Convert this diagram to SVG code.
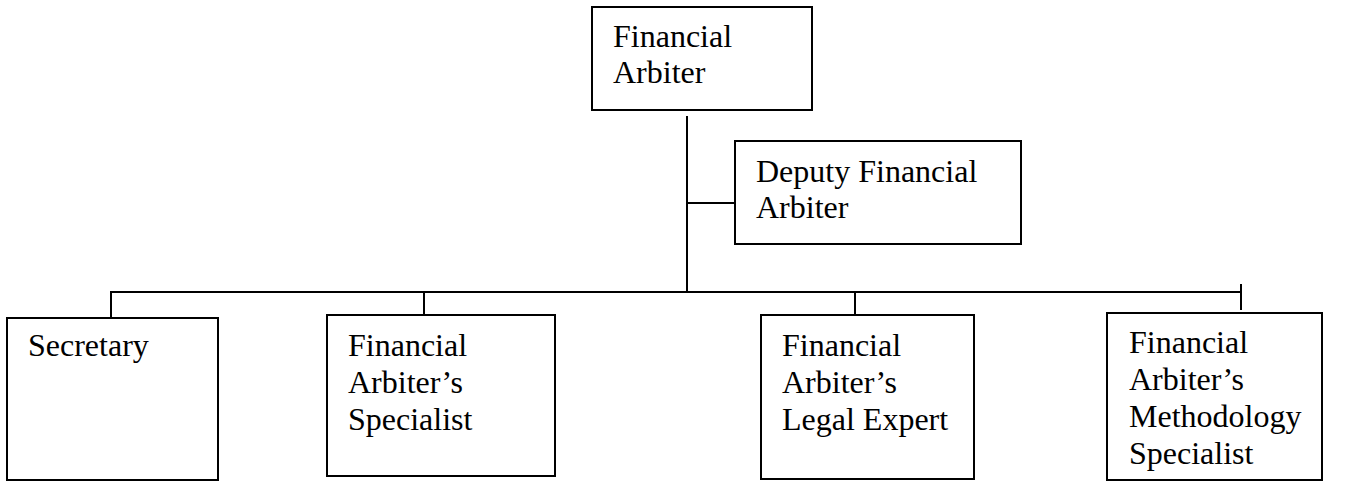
<svg xmlns="http://www.w3.org/2000/svg" width="1366" height="482" viewBox="0 0 1366 482">
<style>
.box{fill:#fff;stroke:#000;stroke-width:2}
.t{font-family:"Liberation Serif","Times New Roman",serif;font-size:32px;fill:#000}
.c{stroke:#000;stroke-width:2;fill:none}
</style>
<rect width="1366" height="482" fill="#fff"/>
<g id="connectors">
<line class="c" x1="687" y1="116" x2="687" y2="292"/>
<line class="c" x1="687" y1="203" x2="735" y2="203"/>
<line class="c" x1="110" y1="292" x2="1241" y2="292"/>
<line class="c" x1="111" y1="291" x2="111" y2="318"/>
<line class="c" x1="424" y1="291" x2="424" y2="315"/>
<line class="c" x1="855" y1="291" x2="855" y2="315"/>
<line class="c" x1="1241" y1="284" x2="1241" y2="310"/>
</g>
<g id="financial-arbiter">
<rect class="box" x="592" y="7" width="220" height="103"/>
<text class="t" x="613" y="47">Financial</text>
<text class="t" x="613" y="83">Arbiter</text>
</g>
<g id="deputy">
<rect class="box" x="735" y="141" width="286" height="103"/>
<text class="t" x="756" y="182">Deputy Financial</text>
<text class="t" x="756" y="218">Arbiter</text>
</g>
<g id="secretary">
<rect class="box" x="7" y="318" width="211" height="162"/>
<text class="t" x="28" y="356">Secretary</text>
</g>
<g id="specialist">
<rect class="box" x="327" y="315" width="228" height="161"/>
<text class="t" x="348" y="356">Financial</text>
<text class="t" x="348" y="393">Arbiter’s</text>
<text class="t" x="348" y="430">Specialist</text>
</g>
<g id="legal">
<rect class="box" x="761" y="315" width="213" height="164"/>
<text class="t" x="782" y="356">Financial</text>
<text class="t" x="782" y="393">Arbiter’s</text>
<text class="t" x="782" y="430">Legal Expert</text>
</g>
<g id="methodology">
<rect class="box" x="1107" y="313" width="215" height="167"/>
<text class="t" x="1129" y="353">Financial</text>
<text class="t" x="1129" y="390">Arbiter’s</text>
<text class="t" x="1129" y="427">Methodology</text>
<text class="t" x="1129" y="464">Specialist</text>
</g>
</svg>
